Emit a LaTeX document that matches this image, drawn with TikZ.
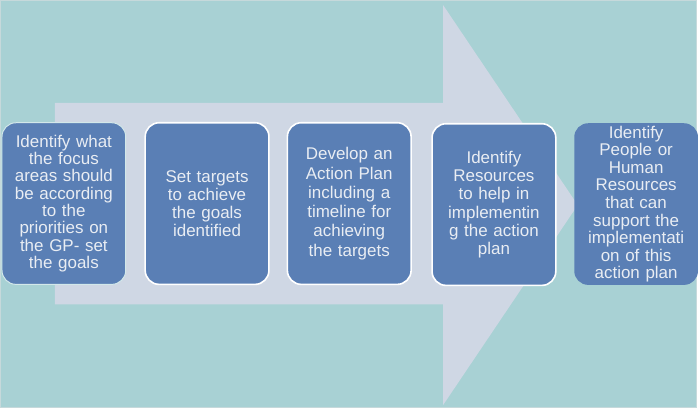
\documentclass[tikz,border=0pt]{standalone}
\usepackage{fontspec}
\setmainfont{Liberation Sans}
\usepackage{tikz}
\usetikzlibrary{positioning}
\definecolor{bgteal}{HTML}{A8D1D4}
\definecolor{arrowgray}{HTML}{CFD7E4}
\definecolor{boxblue}{HTML}{5A7FB5}
\definecolor{boxtext}{HTML}{E9EDF3}
\definecolor{framegray}{HTML}{C6D9DB}

\begin{document}
\begin{tikzpicture}[x=1pt, y=-1pt,
  stepbox/.style={rectangle, rounded corners=14pt, fill=boxblue, draw=white,
    line width=1.6pt, inner sep=0pt, minimum width=124pt, minimum height=162pt,
    text width=122pt, align=center, text=boxtext,
    font=\fontsize{17}{18.3}\selectfont},
  firstbox/.style={stepbox, draw=bgteal!50!white, line width=1pt},
  lastbox/.style={stepbox, draw=none}]
% ---- background and frame ----
\fill[bgteal] (0,0) rectangle (698,409);
\draw[framegray, line width=0.8pt] (0.4,0.4) rectangle (697.6,408.6);
% ---- big arrow behind the steps ----
\fill[arrowgray] (55,103) -- (444,103) -- (444,5) -- (579,205.5)
  -- (444,406) -- (444,305) -- (55,305) -- cycle;
% ---- steps ----
\node[firstbox, font=\fontsize{17}{17.4}\selectfont] (goals) at (64,204)
  {Identify what\\the focus\\areas should\\be according\\to the\\priorities on\\the GP- set\\the goals};
\node[stepbox] (targets) at (207.5,204)
  {Set targets\\to achieve\\the goals\\identified};
\node[stepbox, font=\fontsize{17}{19.3}\selectfont] (plan) at (350,204)
  {Develop an\\Action Plan\\including a\\timeline for\\achieving\\the targets};
\node[stepbox] (resources) at (495,205)
  {Identify\\Resources\\to help in\\implementin\\g the action\\plan};
\node[lastbox, font=\fontsize{17}{17.6}\selectfont] (people) at (637.5,204.5)
  {Identify\\People or\\Human\\Resources\\that can\\support the\\implementati\\on of this\\action plan};
\end{tikzpicture}
\end{document}
